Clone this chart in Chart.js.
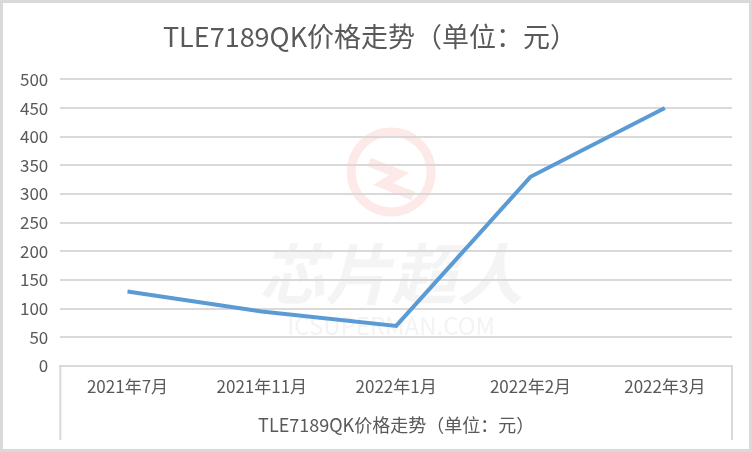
<!DOCTYPE html>
<html>
<head>
<meta charset="utf-8">
<script src="https://cdn.jsdelivr.net/npm/chart.js@4"></script>
<style>
html,body{margin:0;padding:0;background:#fff;}
#wrap{position:absolute;left:0;top:0;width:752px;height:452px;}
</style>
</head>
<body>
<div id="wrap"><canvas id="c" width="752" height="452"></canvas></div>
<script>
const categories = ['2021年7月','2021年11月','2022年1月','2022年2月','2022年3月'];
const prices = [130, 95, 70, 330, 450];
const yTicks = [0,50,100,150,200,250,300,350,400,450,500];
const titleText = 'TLE7189QK价格走势（单位：元）';
const axisTitleText = 'TLE7189QK价格走势（单位：元）';

const FONT = '"Noto Sans CJK SC", "Noto Sans", sans-serif';

const decor = {
  id: 'decor',
  beforeDraw(chart) {
    const ctx = chart.ctx;
    const W = chart.width, H = chart.height;
    ctx.save();
    ctx.fillStyle = '#fff';
    ctx.fillRect(0,0,W,H);
    const a = chart.chartArea;
    const cx = (a.left + a.right)/2 - 5;
    ctx.strokeStyle = 'rgba(235,120,110,0.16)';
    ctx.lineWidth = 9;
    ctx.beginPath();
    ctx.arc(cx, 172, 40, 0, Math.PI*2);
    ctx.stroke();
    ctx.beginPath();
    ctx.moveTo(cx-22,162); ctx.lineTo(cx+8,174); ctx.lineTo(cx-8,184); ctx.lineTo(cx+22,196);
    ctx.stroke();
    ctx.fillStyle = 'rgba(200,200,200,0.2)';
    ctx.font = 'italic bold 66px ' + FONT;
    ctx.textAlign = 'center';
    ctx.textBaseline = 'middle';
    ctx.fillText('芯片超人', cx, 274);
    ctx.font = '24px ' + FONT;
    ctx.fillStyle = 'rgba(200,200,200,0.22)';
    ctx.fillText('ICSUPERMAN.COM', cx, 326);
    ctx.restore();
  },
  afterDraw(chart) {
    const ctx = chart.ctx;
    const a = chart.chartArea;
    const W = chart.width, H = chart.height;
    ctx.save();
    ctx.strokeStyle = '#d9d9d9';
    ctx.lineWidth = 2;
    ctx.beginPath();
    ctx.moveTo(a.left, a.bottom); ctx.lineTo(a.left, H - 12);
    ctx.moveTo(a.right, a.bottom); ctx.lineTo(a.right, H - 12);
    ctx.stroke();
    ctx.strokeStyle = '#d9d9d9';
    ctx.lineWidth = 3;
    ctx.strokeRect(1.5, 1.5, W - 3, H - 3);
    ctx.restore();
  }
};

new Chart(document.getElementById('c'), {
  type: 'line',
  data: {
    labels: categories,
    datasets: [{
      data: prices,
      borderColor: '#5b9bd5',
      borderWidth: 4,
      pointRadius: 0,
      tension: 0,
      fill: false
    }]
  },
  options: {
    responsive: false,
    animation: false,
    devicePixelRatio: 1,
    layout: { padding: { left: 8, right: 20, top: 12, bottom: 16 } },
    plugins: {
      legend: { display: false },
      tooltip: { enabled: false },
      title: {
        display: true,
        text: titleText,
        color: '#595959',
        font: { family: FONT, size: 27, weight: 'normal' },
        padding: { top: 9, bottom: 26 }
      }
    },
    scales: {
      y: {
        min: 0, max: 500,
        afterBuildTicks(s) { s.ticks = yTicks.map(v => ({ value: v })); },
        grid: { color: '#d9d9d9', lineWidth: 2, drawTicks: false },
        border: { display: false },
        ticks: { color: '#595959', font: { family: FONT, size: 17 }, padding: 12 }
      },
      x: {
        offset: true,
        grid: { display: false },
        border: { display: true, color: '#d9d9d9', width: 2 },
        ticks: { color: '#595959', font: { family: FONT, size: 17 }, padding: 2, maxRotation: 0 },
        title: {
          display: true,
          text: axisTitleText,
          color: '#595959',
          font: { family: FONT, size: 18 },
          padding: { top: 16, bottom: 0 }
        }
      }
    }
  },
  plugins: [decor]
});
</script>
</body>
</html>
